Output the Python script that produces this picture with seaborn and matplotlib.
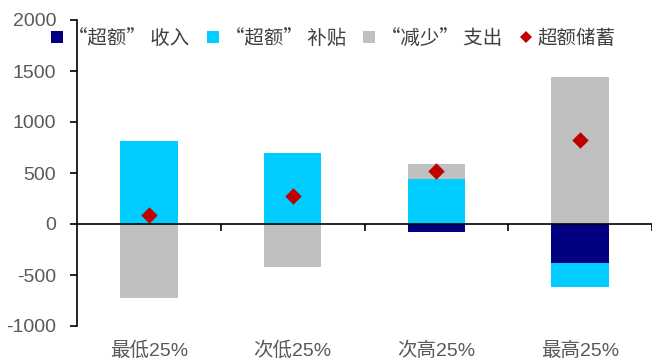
import matplotlib
matplotlib.use("Agg")
import matplotlib.pyplot as plt
import matplotlib.transforms as mtransforms
from matplotlib.lines import Line2D
import numpy as np
import pandas as pd
import seaborn as sns

# Data
categories = ["最低25%", "次低25%", "次高25%", "最高25%"]
excess_income = [0, 0, -78, -382]
excess_subsidy = [817, 696, 446, -239]
reduced_spending = [-725, -425, 147, 1438]
excess_savings = [90, 270, 520, 825]

series_names = ["“超额” 收入", "“超额” 补贴", "“减少” 支出"]
series_values = [excess_income, excess_subsidy, reduced_spending]
series_colors = ["#000080", "#00CCFF", "#C0C0C0"]
savings_name = "超额储蓄"
savings_color = "#C00000"

sns.set_theme(style="white")
plt.rcParams["font.family"] = ["Liberation Sans", "Noto Sans CJK SC", "DejaVu Sans"]
plt.rcParams["axes.unicode_minus"] = False
text_color = "#595959"
cjk_fonts = ["Noto Sans CJK SC", "Liberation Sans", "DejaVu Sans"]

fig = plt.figure(figsize=(6.52, 3.61), dpi=100)
ax = fig.add_axes([77 / 652, 1 - 326 / 361, 1 - 77 / 652, (326 - 20) / 361])

# Stack positives upward and negatives downward, in series order
pos_base = np.zeros(len(categories))
neg_base = np.zeros(len(categories))
for name, vals, color in zip(series_names, series_values, series_colors):
    vals = np.asarray(vals, dtype=float)
    bottoms = np.where(vals >= 0, pos_base, neg_base)
    df = pd.DataFrame({"cat": categories, "val": vals})
    sns.barplot(data=df, x="cat", y="val", color=color, width=0.4,
                bottom=bottoms, ax=ax, saturation=1, linewidth=0, zorder=2)
    pos_base = pos_base + np.where(vals >= 0, vals, 0)
    neg_base = neg_base + np.where(vals < 0, vals, 0)

sdf = pd.DataFrame({"cat": categories, "val": excess_savings})
sns.scatterplot(data=sdf, x="cat", y="val", marker="D", color=savings_color,
                s=70, linewidth=0, ax=ax, zorder=4, legend=False)

ax.set_xlim(-0.5, 3.5)
ax.set_ylim(-1000, 2000)
ax.set_yticks(np.arange(-1000, 2001, 500))
ax.set_xlabel("")
ax.set_ylabel("")

for side in ["top", "right"]:
    ax.spines[side].set_visible(False)
ax.spines["left"].set_color("black")
ax.spines["left"].set_linewidth(1.2)
ax.spines["bottom"].set_position(("data", 0))
ax.spines["bottom"].set_color("black")
ax.spines["bottom"].set_linewidth(1.2)
ax.spines["bottom"].set_zorder(3)

# Boundary ticks on the zero line, no labels
ax.set_xticks([0.5, 1.5, 2.5, 3.5])
ax.set_xticklabels([])
ax.tick_params(axis="x", direction="out", length=5, width=1.2, color="black", bottom=True)
ax.tick_params(axis="y", direction="out", length=5, width=1.2, color="black", left=True,
               labelsize=14, labelcolor=text_color, pad=10)

# Category labels below the plot area
base = mtransforms.blended_transform_factory(ax.transData, ax.transAxes)
for i, label in enumerate(categories):
    ax.text(i, -0.098, label, transform=base, ha="center", va="baseline",
            fontsize=14, color=text_color, clip_on=False)

handles = [Line2D([], [], marker="s", linestyle="none", markersize=8,
                  markerfacecolor=c, markeredgewidth=0) for c in series_colors]
handles.append(Line2D([], [], marker="D", linestyle="none", markersize=6.5,
                      markerfacecolor=savings_color, markeredgewidth=0))
leg = ax.legend(handles, series_names + [savings_name], ncol=4, frameon=False,
                loc="center left", bbox_to_anchor=(51 / 652, 1 - 38 / 361),
                bbox_transform=fig.transFigure, handlelength=0.6, handletextpad=0.3,
                columnspacing=0.9, borderaxespad=0, borderpad=0,
                prop={"family": cjk_fonts, "size": 14})
for t in leg.get_texts():
    t.set_color("#404040")

fig.savefig("out.png", dpi=100)
